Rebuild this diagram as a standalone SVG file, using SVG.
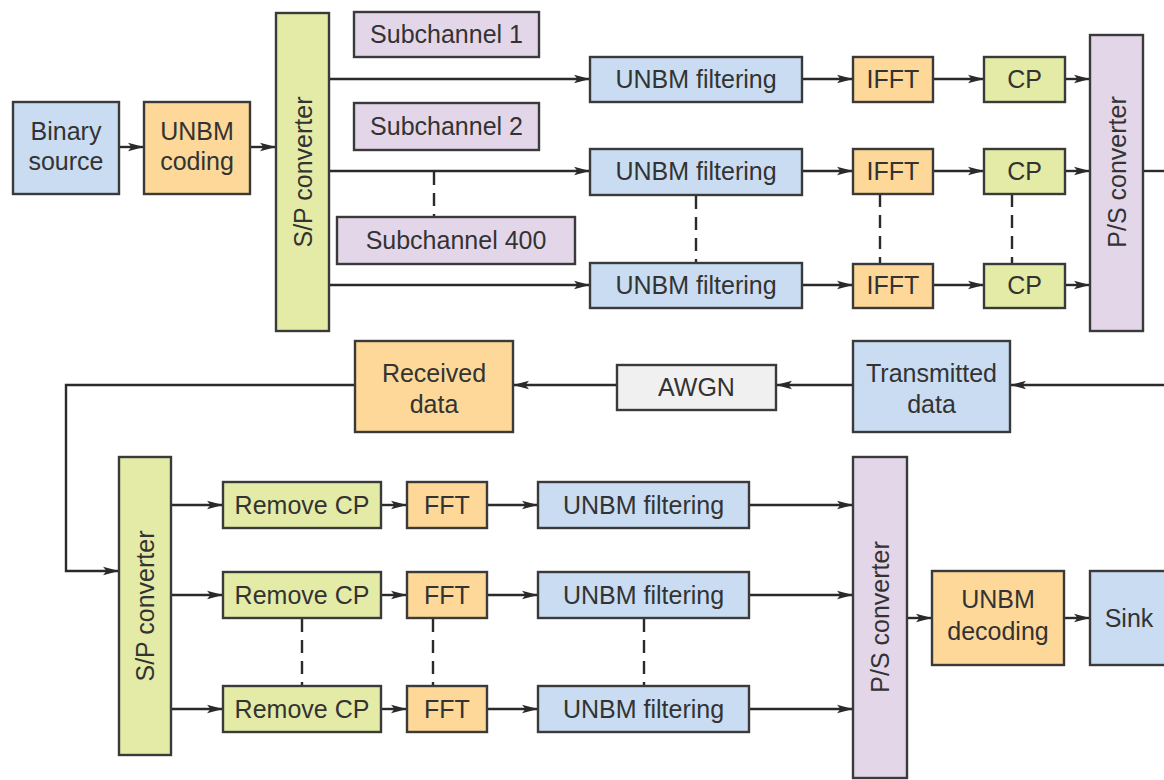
<svg xmlns="http://www.w3.org/2000/svg" width="1164" height="780" viewBox="0 0 1164 780">
<defs>
<style>
.box{stroke:#3a3a3a;stroke-width:2.4}
.blue{fill:#c9dcf1}
.orange{fill:#fdd898}
.green{fill:#e3eba6}
.lav{fill:#e3d6e9}
.grey{fill:#f0f0f0}
text{font-family:"Liberation Sans",Arial,sans-serif;font-size:25px;fill:#333;text-anchor:middle}
.ln{stroke:#2a2a2a;stroke-width:2.4;fill:none}
.arr{marker-end:url(#ah)}
.dash{stroke:#2a2a2a;stroke-width:2.4;stroke-dasharray:13 8;fill:none}
</style>
<marker id="ah" markerUnits="userSpaceOnUse" markerWidth="18" markerHeight="12" refX="16" refY="6" orient="auto">
<path d="M0,1.8 L16,6 L0,10.2 L3.5,6 Z" fill="#2a2a2a"/>
</marker>
</defs>
<rect width="1164" height="780" fill="#fff"/>

<g id="connectors">
<line class="ln arr" x1="119" y1="147" x2="144" y2="147"/>
<line class="ln arr" x1="250" y1="147" x2="276" y2="147"/>
<line class="ln arr" x1="329" y1="79" x2="590" y2="79"/>
<line class="ln arr" x1="329" y1="171" x2="590" y2="171"/>
<line class="ln arr" x1="329" y1="285" x2="590" y2="285"/>
<line class="ln arr" x1="802" y1="79" x2="853" y2="79"/>
<line class="ln arr" x1="802" y1="171" x2="853" y2="171"/>
<line class="ln arr" x1="802" y1="285" x2="853" y2="285"/>
<line class="ln arr" x1="933" y1="79" x2="984" y2="79"/>
<line class="ln arr" x1="933" y1="171" x2="984" y2="171"/>
<line class="ln arr" x1="933" y1="285" x2="984" y2="285"/>
<line class="ln arr" x1="1065" y1="79" x2="1090" y2="79"/>
<line class="ln arr" x1="1065" y1="171" x2="1090" y2="171"/>
<line class="ln arr" x1="1065" y1="285" x2="1090" y2="285"/>
<line class="ln" x1="1143" y1="171" x2="1164" y2="171"/>
<line class="dash" x1="434" y1="172" x2="434" y2="217"/>
<line class="dash" x1="696" y1="196" x2="696" y2="263"/>
<line class="dash" x1="880" y1="194" x2="880" y2="264"/>
<line class="dash" x1="1012" y1="194" x2="1012" y2="264"/>

<line class="ln arr" x1="1164" y1="385" x2="1010" y2="385"/>
<line class="ln arr" x1="853" y1="385" x2="776" y2="385"/>
<line class="ln arr" x1="617" y1="385" x2="513" y2="385"/>
<polyline class="ln arr" points="355,385 66,385 66,571 119,571"/>

<line class="ln arr" x1="171" y1="505" x2="223" y2="505"/>
<line class="ln arr" x1="171" y1="595" x2="223" y2="595"/>
<line class="ln arr" x1="171" y1="709" x2="223" y2="709"/>
<line class="ln arr" x1="381" y1="505" x2="407" y2="505"/>
<line class="ln arr" x1="381" y1="595" x2="407" y2="595"/>
<line class="ln arr" x1="381" y1="709" x2="407" y2="709"/>
<line class="ln arr" x1="487" y1="505" x2="538" y2="505"/>
<line class="ln arr" x1="487" y1="595" x2="538" y2="595"/>
<line class="ln arr" x1="487" y1="709" x2="538" y2="709"/>
<line class="ln arr" x1="749" y1="505" x2="853" y2="505"/>
<line class="ln arr" x1="749" y1="595" x2="853" y2="595"/>
<line class="ln arr" x1="749" y1="709" x2="853" y2="709"/>
<line class="ln arr" x1="907" y1="618" x2="932" y2="618"/>
<line class="ln arr" x1="1064" y1="618" x2="1090" y2="618"/>
<line class="dash" x1="302" y1="619" x2="302" y2="685"/>
<line class="dash" x1="433" y1="619" x2="433" y2="685"/>
<line class="dash" x1="644" y1="619" x2="644" y2="685"/>
</g>

<g id="binary-source"><rect class="box blue" x="13" y="102" width="106" height="92"/><text x="66" y="140">Binary</text><text x="66" y="170">source</text></g>
<g id="unbm-coding"><rect class="box orange" x="144" y="102" width="106" height="92"/><text x="197" y="140">UNBM</text><text x="197" y="170">coding</text></g>
<g id="sp-converter-tx"><rect class="box green" x="276" y="13" width="53" height="318"/><text transform="rotate(-90 302.5 172)" x="302.5" y="181">S/P converter</text></g>
<g id="subchannel-1"><rect class="box lav" x="354" y="12" width="185" height="45"/><text x="446.5" y="43">Subchannel 1</text></g>
<g id="subchannel-2"><rect class="box lav" x="354" y="103" width="185" height="47"/><text x="446.5" y="135">Subchannel 2</text></g>
<g id="subchannel-400"><rect class="box lav" x="337" y="217" width="238" height="47"/><text x="456" y="249">Subchannel 400</text></g>

<g id="unbm-filtering-tx-1"><rect class="box blue" x="590" y="57" width="212" height="45"/><text x="696" y="88">UNBM filtering</text></g>
<g id="unbm-filtering-tx-2"><rect class="box blue" x="590" y="149" width="212" height="46"/><text x="696" y="180">UNBM filtering</text></g>
<g id="unbm-filtering-tx-3"><rect class="box blue" x="590" y="263" width="212" height="45"/><text x="696" y="294">UNBM filtering</text></g>
<g id="ifft-1"><rect class="box orange" x="853" y="57" width="80" height="45"/><text x="893" y="88">IFFT</text></g>
<g id="ifft-2"><rect class="box orange" x="853" y="149" width="80" height="45"/><text x="893" y="180">IFFT</text></g>
<g id="ifft-3"><rect class="box orange" x="853" y="264" width="80" height="44"/><text x="893" y="294">IFFT</text></g>
<g id="cp-1"><rect class="box green" x="984" y="57" width="81" height="45"/><text x="1024.5" y="88">CP</text></g>
<g id="cp-2"><rect class="box green" x="984" y="149" width="81" height="45"/><text x="1024.5" y="180">CP</text></g>
<g id="cp-3"><rect class="box green" x="984" y="264" width="81" height="44"/><text x="1024.5" y="294">CP</text></g>
<g id="ps-converter-tx"><rect class="box lav" x="1090" y="35" width="53" height="296"/><text transform="rotate(-90 1116.5 172)" x="1116.5" y="181">P/S converter</text></g>

<g id="transmitted-data"><rect class="box blue" x="853" y="341" width="157" height="91"/><text x="931.5" y="382">Transmitted</text><text x="931.5" y="413">data</text></g>
<g id="awgn"><rect class="box grey" x="617" y="365" width="159" height="45"/><text x="696.5" y="396">AWGN</text></g>
<g id="received-data"><rect class="box orange" x="355" y="341" width="158" height="91"/><text x="434" y="382">Received</text><text x="434" y="413">data</text></g>

<g id="sp-converter-rx"><rect class="box green" x="119" y="457" width="52" height="298"/><text transform="rotate(-90 145 606)" x="145" y="615">S/P converter</text></g>
<g id="remove-cp-1"><rect class="box green" x="223" y="482" width="158" height="46"/><text x="302" y="514">Remove CP</text></g>
<g id="remove-cp-2"><rect class="box green" x="223" y="572" width="158" height="46"/><text x="302" y="604">Remove CP</text></g>
<g id="remove-cp-3"><rect class="box green" x="223" y="686" width="158" height="46"/><text x="302" y="718">Remove CP</text></g>
<g id="fft-1"><rect class="box orange" x="407" y="482" width="80" height="46"/><text x="447" y="514">FFT</text></g>
<g id="fft-2"><rect class="box orange" x="407" y="572" width="80" height="46"/><text x="447" y="604">FFT</text></g>
<g id="fft-3"><rect class="box orange" x="407" y="686" width="80" height="46"/><text x="447" y="718">FFT</text></g>
<g id="unbm-filtering-rx-1"><rect class="box blue" x="538" y="482" width="211" height="46"/><text x="643.5" y="514">UNBM filtering</text></g>
<g id="unbm-filtering-rx-2"><rect class="box blue" x="538" y="572" width="211" height="46"/><text x="643.5" y="604">UNBM filtering</text></g>
<g id="unbm-filtering-rx-3"><rect class="box blue" x="538" y="686" width="211" height="46"/><text x="643.5" y="718">UNBM filtering</text></g>
<g id="ps-converter-rx"><rect class="box lav" x="853" y="457" width="54" height="321"/><text transform="rotate(-90 880 617)" x="880" y="626">P/S converter</text></g>
<g id="unbm-decoding"><rect class="box orange" x="932" y="571" width="132" height="94"/><text x="998" y="608">UNBM</text><text x="998" y="640">decoding</text></g>
<g id="sink"><rect class="box blue" x="1090" y="571" width="80" height="94"/><text x="1129" y="627">Sink</text></g>
</svg>
